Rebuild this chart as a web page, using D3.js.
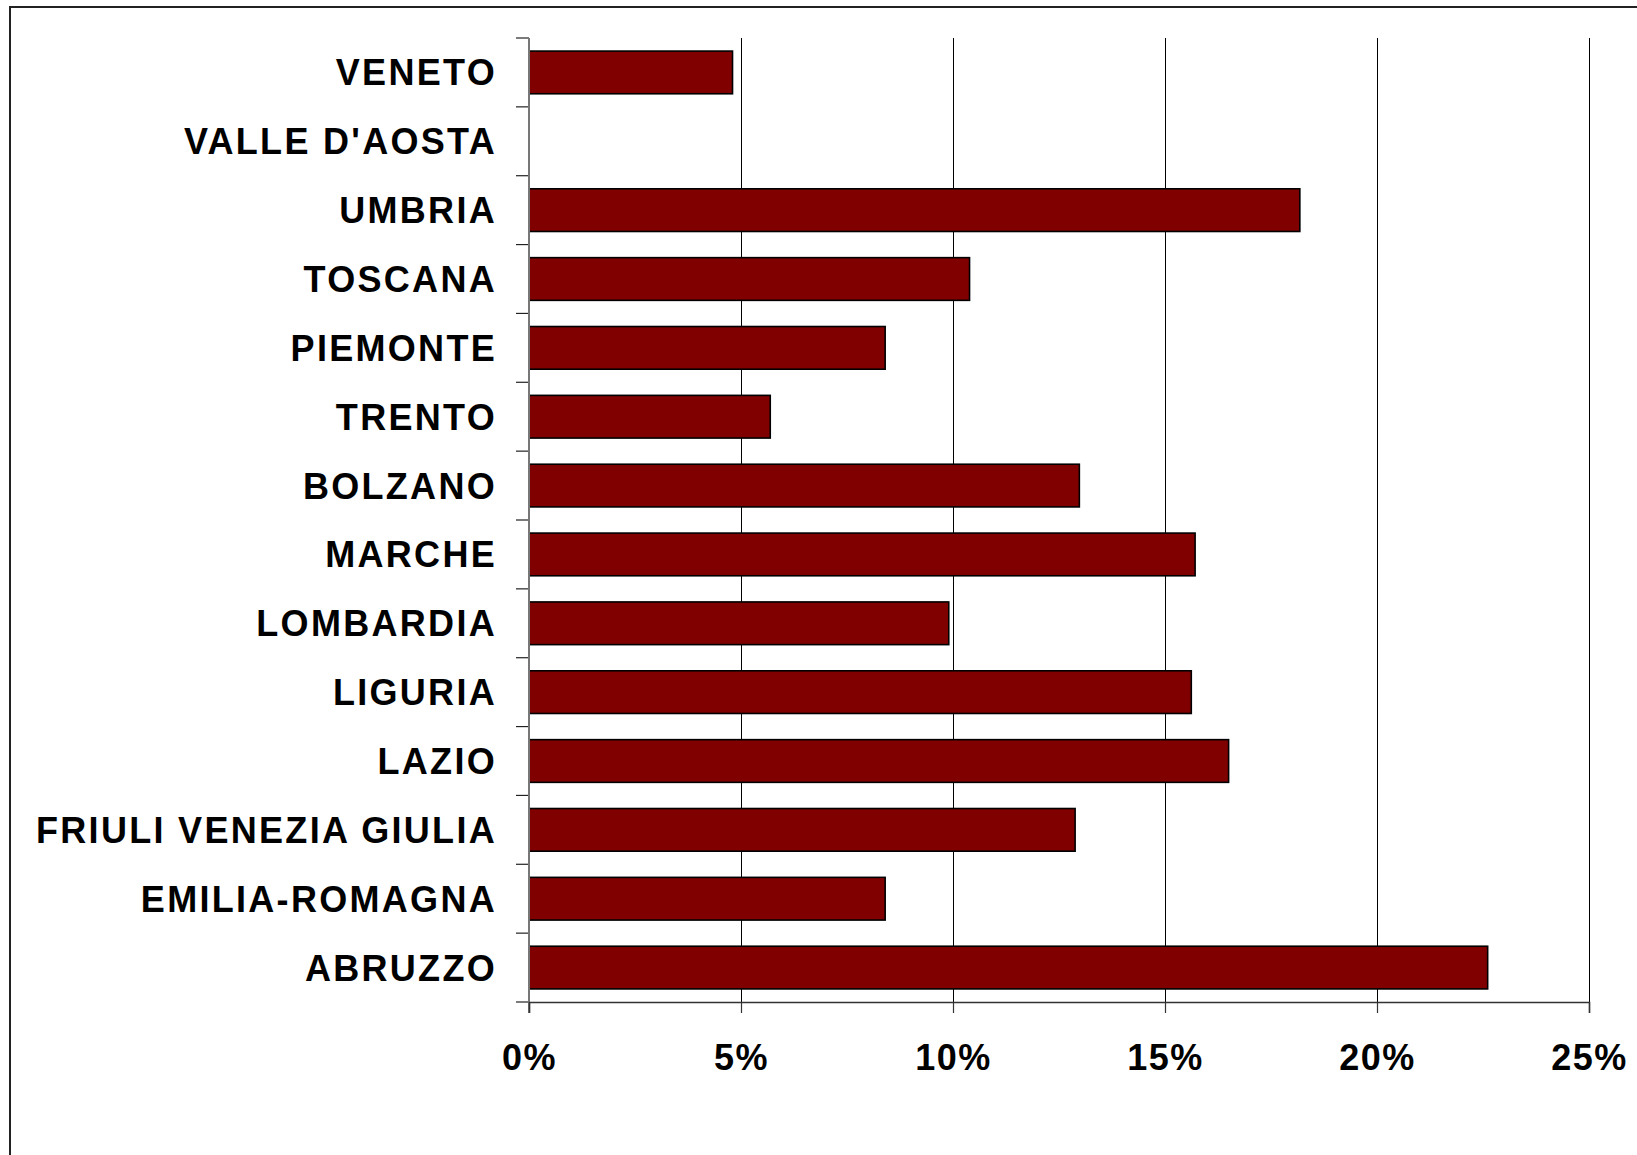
<!DOCTYPE html>
<html>
<head>
<meta charset="utf-8">
<script src="https://cdn.jsdelivr.net/npm/d3@7"></script>
<style>
  body { margin: 0; background: #fff; }
  text { font-family: "Liberation Sans", Arial, sans-serif; font-weight: bold; }
</style>
</head>
<body>
<div id="chart"></div>
<script>
const regions = ["VENETO", "VALLE D'AOSTA", "UMBRIA", "TOSCANA", "PIEMONTE", "TRENTO", "BOLZANO",
  "MARCHE", "LOMBARDIA", "LIGURIA", "LAZIO", "FRIULI VENEZIA GIULIA", "EMILIA-ROMAGNA", "ABRUZZO"];
const shares = [0.048, 0, 0.1818, 0.1039, 0.084, 0.0569, 0.1298, 0.1571, 0.099, 0.1562, 0.165, 0.1288, 0.084, 0.2261];
const xTicks = [0, 0.05, 0.10, 0.15, 0.20, 0.25];

const data = regions.map((r, i) => ({ region: r, value: shares[i] }));

const W = 1637, H = 1155;
const margin = { top: 38, right: 48, bottom: 153, left: 529 };
const width = W - margin.left - margin.right;
const height = H - margin.top - margin.bottom;

const svg = d3.select("#chart").append("svg")
  .attr("width", W)
  .attr("height", H);

// outer frame
svg.append("rect")
  .attr("x", 10).attr("y", 7)
  .attr("width", W + 20).attr("height", H + 20)
  .attr("fill", "none")
  .attr("stroke", "#222")
  .attr("stroke-width", 2);

const g = svg.append("g")
  .attr("transform", `translate(${margin.left}, ${margin.top})`);

const xScale = d3.scaleLinear().domain([0, 0.25]).range([0, width]);
const yScale = d3.scaleBand().domain(regions).range([0, height]).paddingInner(0.38).paddingOuter(0.19);

// vertical gridlines
g.selectAll(".grid")
  .data(xTicks.slice(1))
  .join("line")
  .attr("class", "grid")
  .attr("x1", d => Math.round(xScale(d)) + 0.5)
  .attr("x2", d => Math.round(xScale(d)) + 0.5)
  .attr("y1", 0)
  .attr("y2", height)
  .attr("stroke", "#000")
  .attr("stroke-width", 1);

// bars
g.selectAll(".bar")
  .data(data.filter(d => d.value > 0))
  .join("rect")
  .attr("class", "bar")
  .attr("x", xScale(0))
  .attr("y", d => yScale(d.region))
  .attr("width", d => xScale(d.value))
  .attr("height", yScale.bandwidth())
  .attr("fill", "#800000")
  .attr("stroke", "#000")
  .attr("stroke-width", 1.6);

// category ticks at band boundaries
const bounds = d3.range(regions.length + 1).map(i => i * height / regions.length);
g.selectAll(".ytick")
  .data(bounds)
  .join("line")
  .attr("x1", -13).attr("x2", 0)
  .attr("y1", d => d).attr("y2", d => d)
  .attr("stroke", "#222")
  .attr("stroke-width", 1.2);

// category labels
g.selectAll(".ylabel")
  .data(regions)
  .join("text")
  .attr("x", -32)
  .attr("y", d => yScale(d) + yScale.bandwidth() / 2)
  .attr("dy", "0.36em")
  .attr("text-anchor", "end")
  .attr("font-size", 36)
  .attr("letter-spacing", 2.3)
  .attr("fill", "#000")
  .text(d => d);

// y axis line
g.append("line")
  .attr("x1", 0).attr("x2", 0)
  .attr("y1", 0).attr("y2", height + 11)
  .attr("stroke", "#777")
  .attr("stroke-width", 2);

// x axis
const xAxis = g.append("g")
  .attr("transform", `translate(0, ${height})`)
  .call(d3.axisBottom(xScale).tickValues(xTicks).tickSize(11).tickPadding(31).tickFormat(d3.format(".0%")));
xAxis.select(".domain").attr("stroke", "#333").attr("stroke-width", 1.5);
xAxis.selectAll(".tick line").attr("stroke", "#333").attr("stroke-width", 1.2);
xAxis.selectAll(".tick text")
  .attr("font-size", 36)
  .attr("letter-spacing", 1.5)
  .attr("font-family", "Liberation Sans, Arial, sans-serif")
  .attr("font-weight", "bold")
  .attr("fill", "#000");
</script>
</body>
</html>
